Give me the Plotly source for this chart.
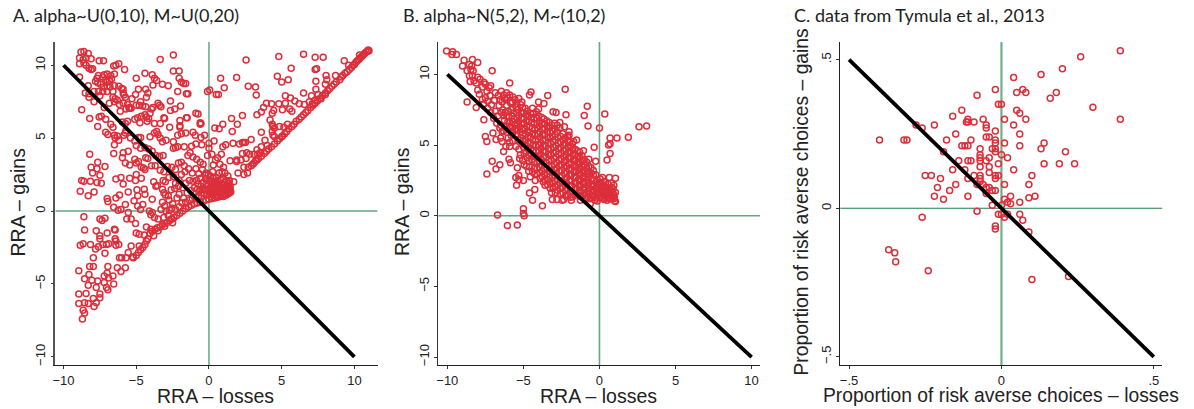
import plotly.graph_objects as go

W, H = 1194, 409

panel_a_points = [
(-8.7,-7.4),(-8.55,-7.0),(-8.65,-6.8),(-8.95,-6.35),(-8.55,-6.3),(-8.3,-6.35),(-7.9,-6.55),(-7.75,-6.3),(-7.95,-6.0),(-7.5,-5.95),(-7.5,-5.7),(-8.95,-5.7),(-8.45,-5.65),(-7.75,-5.25),(-8.3,-5.1),(-8.55,-4.65),(-8.25,-4.35),(-8.05,-4.75),(-7.65,-4.8),(-8.95,-4.1),(-8.2,-3.8),(-7.95,-3.8),(-7.95,-3.2),(-8.85,-2.35),(-8.65,-2.25),(-8.15,-2.3),(-8.55,-1.3),(-8.6,-.4),(-7.75,-1.35),(-7.5,-1.7),(-7.5,-1.9),(-7.3,-2.3),(-7.8,-2.6),(-7.6,-2.45),(-7.5,-.55),(-7.35,-.65),(-7.15,-.5),(-7,-1.5),(-6.5,-1.25),(-6.45,-1.3),(-7.05,-2.3),(-6.9,-2.25),(-7.15,-2.9),(-6.45,-1.9),(-6.4,-2.05),(-6.4,-2.35),(-6.2,-2.3),(-6.95,-3.8),(-7,-4.25),(-7.2,-4.45),(-6.9,-4.6),(-6.6,-4.45),(-7.2,-4.9),(-6.55,-5),(-7.05,-5.25),(-6.95,-5.4),(-6.3,-3.9),(-6.15,-3.2),(-6,-3.2),(-5.7,-3.2),(-6.05,-4.15),(-5.75,-3.9),(-5.55,-2.85),(-5.25,-3.15),(-5.35,-2.4),(-4.8,-2.4),(-5,-1.5),(-4.8,-1.6),(-5.05,-.85),(-4.3,-1.1),(-4,-1.25),(-3.8,-1.7),(-3.5,-1.35),(-5.65,-.55),(-5.35,-.55),(-5.55,-.1),(-6.05,.1),(-6.25,.05),(-6.55,.25),(-5.75,.45),
(-5.2,-3.2),(-5,-3.05),(-4.85,-2.85),(-4.7,-2.65),(-4.55,-2.5),(-4.4,-2.3),(-4.3,-2.05),(-4.45,-1.65),(-4.2,-1.9),(-4.05,-1.55),(-3.9,-1.4),(-3.7,-1.25),(-3.55,-1.15),(-3.35,-1.1),(-3.2,-.95),(-3.05,-.85),(-2.9,-.8),(-2.7,-.65),(-2.55,-.55),(-2.4,-.45),(-2.2,-.3),(-2,-.15),(-1.8,0),(-1.6,.15),(-1.4,.3),(-1.2,.4),(-1,.5),(-.8,.55),(-.6,.6),(-.4,.65),(-.2,.75),(0,.8),(.2,.85),(.4,.9),(.6,.95),(.8,1),(1,1),(1.2,1.1),(1.4,1.25),
(-8.85,1.35),(-7.9,1.3),(-8.3,1.05),(-8.75,2.1),(-8.6,2.05),(-8.15,2.05),(-7.7,1.95),(-7.4,1.9),(-7.5,2.45),(-8,2.6),(-8.1,3),(-7.7,2.9),(-7.65,3.35),(-7.15,3.05),(-8.2,3.9),(-7,.85),(-6.95,.65),(-6.4,.9),(-6.15,1.1),(-6.4,2.2),(-6.05,2.3),(-5.9,1.85),(-5.45,2.25),(-5.55,1.3),(-6.55,3.95),(-5.9,4),(-5.55,4.1),(-5.95,3.65),(-5.75,3.3),(-5.45,3.15),(-5.1,3.55),(-5,3.3),(-4.85,3.4),(-5,2.5),(-5.05,2.1),(-4.65,2.25),(-4.95,1.45),(-4.45,1.5),(-4.9,1.05),(-4.4,1.15),(-5.15,.7),(-4.55,.45),(-4.9,.35),(-4.7,.1),(-4.1,0),(-4,-.25),(-3.75,-.45),(-3.9,-.1),(-3.5,-.55),(-3.1,-.45),(-2.6,-.55),(-2.5,-.8),(-3.05,-1.05),(-2.8,-.3),
(-8.8,10.9),(-8.6,10.95),(-8.3,10.8),(-8.1,10.45),(-8.9,10.5),(-8.65,10.4),(-8.45,10.5),(-8.9,10.1),(-8.6,10.15),(-8.45,10),(-8.25,9.8),(-8,9.75),(-8.1,9.7),(-7.55,10.3),(-7.25,10.3),(-6.55,9.95),(-6.4,10),(-6.2,10.1),(-5.8,9.7),(-8.9,9.2),(-3.35,10.4),(-2.45,10.7),(-2.45,9.6),(-2.05,9.6),(-4.4,9.45),(-3.9,9.35),(-3.75,9.1),(-3.6,8.95),(-3.2,8.7),(-5,9.1),(-2.05,9.1),(-1.9,8.85),(-1.75,8.75),(-1.6,8.75),(-3.85,8.65),(-2.8,8.6),(-2.15,8.2),(-1.55,8.05),(-1.45,8.05),
(-.1,8.2),(.05,8.3),(.5,8),(.65,8),(1.05,8.45),(.8,9.1),(1.9,9.15),(2.7,8.55),(3.2,8.5),(3.25,7.95),(2.55,10.35),(4.8,10.6),(6.5,10.75),(7.3,10.55),(7.85,10.55),(5.65,9.8),(4.7,9.25),(5,8.85),(5.45,9),(7.3,9.7),(7.4,9.75),(7.35,8.9),(8.05,9.3),(8.1,9),(8,8.7),(8.7,9.3),(9.3,10.3),(9.6,10),
(-7.7,9.1),(-7.6,9.3),(-7.3,9.2),(-7.2,9.35),(-7.0,9.4),(-6.75,9.3),(-6.5,9.4),(-7.1,9),(-7.0,8.85),(-6.85,8.95),(-6.7,9.05),(-7.8,8.9),(-7.65,8.8),(-7.45,8.7),(-7.25,8.5),(-7.0,8.55),(-6.8,8.5),(-6.5,8.6),(-6.2,8.55),(-6.0,8.4),(-5.9,8.35),(-8.3,8.6),(-8.5,8.1),(-8.25,8.05),(-8.25,7.8),(-7.9,8.2),(-7.6,8.2),(-7.3,8.2),(-7,8.2),(-6.6,8.2),(-5.9,8.1),(-5.85,7.95),(-5.75,7.8),(-7.9,7.5),(-7.5,7.9),(-7.2,7.1),(-6.85,7.4),(-6.6,7.8),(-6.45,7.7),(-6.3,7.6),(-6.5,7.5),(-6.15,7.3),(-5.9,7.4),(-5.6,7.3),(-5.45,7.1),(-5.3,7.7),(-5.05,8),(-4.85,8.35),(-4.35,8.35),(-4.2,8.1),(-4.3,7.8),(-4.7,7.5),(-5,7.25),(-4.8,7.25),(-4.55,7.2),(-4.35,7.15),(-5.35,7.05),(-5.5,7.05),(-5.7,7),(-6.1,6.85),(-8.75,6.95),(-8.2,6.35),(-7.55,6.45),(-7.4,6.5),(-7.1,6.3),(-6.75,5.95),(-6.6,5.75),(-7.65,5.8),(-7.1,5.4),(-6.95,5.25),(-6.5,5.2),(-6.45,5),(-6.5,4.55),(-6.3,5.15),(-6.2,4.85),(-5.95,6.1),(-5.75,6),(-5.6,6.15),(-5.7,5.5),(-5.75,5.35),(-5.85,5.2),(-5.4,5),(-5.1,4.8),(-5,4.5),(-5.1,6.3),(-4.9,6.4),(-4.65,6.5),(-4.4,6.6),(-4.3,6.45),(-4.15,6.35),(-4.05,6.7),(-3.95,7.0),(-3.85,7.1),(-3.5,7.4),(-3.4,7.25),(-3.3,7.15),(-2.65,7.55),(-2.35,7),(-2.65,6.9),(-1.95,7.2),(-3.1,6.4),(-3.05,6.35),(-3.75,6.0),(-3.35,6.0),(-4.75,6.05),(-4.25,6.15),(-2.7,5.75),(-2,6.2),(-2,5.85),(-2,5.75),(-1.55,6.4),(-1.5,6.4),(-.9,6.7),(-.75,6.65),(-.6,6.05),(-.55,6),(-.6,5.95),(-1.9,5.3),(-1.6,5.35),(-1.1,5.4),(-.95,5.2),(-.55,5.05),(-.3,5.2),(-4.85,5.05),(-4.7,5.05),(-4.05,5.1),(-3.75,5.35),(-3.6,5.45),(-3.5,5.25),(-3.35,5),(-3.2,4.75),(-2.95,4.85),(-2.15,5.2),(-2.45,4.75),
(.4,5.7),(.7,5.65),(.95,5.95),(1.55,6.35),(2.3,6.55),(1.95,5.95),(1.6,5.45),(3.3,6.6),(3.6,6.8),(3.75,7.1),(3.95,7.4),(4.3,7.35),(4.45,6.9),(4.35,6.7),(4.8,7.35),(4.2,6.25),(4.35,5.95),(4.5,5.7),(5.25,7.9),(5.25,7.4),(5.6,7.75),(5.9,7.55),(5.55,7),(5.05,6.95),(5.7,6.85),(6.5,8.1),(6.55,7.3),(7.05,7.9),(7.35,8.35),(7.5,8),(7.7,7.7),(8,8),(3.6,5.4),(3.85,4.85),(4.35,5.45),(4.4,5.2),(4.5,5.1),(2.9,4.9),(2.1,4.6),(2.3,4.7),(2.5,4.7),(1.65,4.65),(1.15,4.55),(.95,4.4),(.35,4.8),(0,4.65),(0,4.3),
(1.5,1.3),(1.7,2.0),(2,2.6),(2.4,2.5),(2.65,2.6),(2.4,3.0),(2.7,3),(2.9,3.1),(3.0,3.2),(3.1,3.3),(3.2,3.45),(3.3,3.5),(3.4,3.6),(3.6,3.75),(3.8,3.95),(3.95,4.1),(4.1,4.25),(4.3,4.4),(4.5,4.6),(4.7,4.8),(4.85,4.95),(5,5.1),(5.2,5.3),(5.35,5.45),(5.5,5.65),(5.7,5.8),(5.85,5.95),(6,6.15),(6.2,6.3),(6.35,6.45),(6.5,6.6),(6.65,6.75),(6.8,6.9),(7,7.1),(7.15,7.25),(7.3,7.4),(7.45,7.55),(7.6,7.7),(7.8,7.9),(8,8.1),(8.15,8.25),(8.3,8.4),(8.45,8.55),(8.6,8.7),(8.75,8.85),(9.0,9),(9.1,9.2),(9.2,9.3),(9.35,9.45),(9.5,9.55),(9.65,9.7),(9.8,9.85),(9.9,10),(10,10.05),(10.1,10.2),(10.2,10.3),(10.3,10.4),(10.4,10.5),(10.5,10.6),(10.35,10.7),(10.6,10.7),(10.7,10.8),(10.8,10.9),(10.9,10.95),(11,11),(10.95,11.05),
(2.4,4.7),(2.8,3.9),(2.6,4),(2.3,3.95),(2.55,3.6),(2.2,3.5),(1.9,3.4),(1.45,3.45),(1.9,3.5),(3.3,4.2),(3.6,4.4),(3.1,3.9),(3.35,3.9),(3.5,4),(4,4.5),(6.2,7.35),(6.9,7.5),(7.1,7.35),(7.3,7.6),(5.4,5.95),(4.4,5.8),(4.85,5.8),(5.15,5.75),(5.05,5.15),
(-4.7,4.3),(-4.4,4.35),(-4.15,4.25),(-3.9,4.1),(-3.65,3.8),(-3.4,3.75),(-3.15,3.8),(-4.35,3.65),(-4.2,3.6),(-4.65,3),(-4.5,2.95),(-4.4,2.85),(-3.95,3.1),(-3.7,3.1),(-3.35,2.8),(-3.1,2.7),(-2.85,3.05),(-2.55,3),(-2.3,2.85),(-2.1,3.3),(-1.9,3.35),(-1.7,3.1),(-1.45,3.8),(-1.3,4),(-1.1,3.7),(-.85,3.55),(-.6,3.35),(-.4,3.2),(-.1,3.8),(-.5,4.55),(-.9,4.6),(-1.2,4.45),(-1.7,4.4),(-2.15,4.4),(-2.45,4.3),(-2.3,4.35),(-3.8,2),(-3.65,1.7),(-3.55,1.75),(-3.15,2.1),(-3.0,2.0),(-2.75,2.3),(-2.45,2.35),(-2.3,1.9),(-2.05,2.1),(-1.9,2.5),(-1.65,2.7),(-1.4,2.9),(-1.15,2.6),(-.9,2.9),(-.7,2.55),(-.45,2.85),(-.2,2.6),(-3.2,1.5),(-3.1,1.25),(-3.0,1.1),(-2.8,1.05),(-2.6,1.45),(-2.35,1.55),(-2.1,1.7),(-1.8,1.6),(-1.6,1.9),(-1.35,2.1),(-1.1,2.05),(-.85,2.1),(-.6,2.25),(-3.9,.8),(-3.2,.6),(-3.05,.35),(-2.75,.75),(-2.5,.5),(-2.2,.9),(-2.05,1.15),(-1.75,.9),(-1.5,1.25),(-1.25,1.4),(-1,1.6),(-.8,1.5),(-2.55,.2),(-2.3,.1),(-2.05,.3),(-1.85,.55),(-1.6,.6),(-1.35,.75),(-1.15,.85),(-.9,.95),(-.7,1.05),(-.5,1.25),(-2.95,.0),(-2.7,.05),(-3.3,.1),(-.55,1.7),(-.4,1.95),(-.2,2.2),(-.3,1.45),(-.15,1.1),(.05,1.3),
(.05,2.1),(.1,2.4),(.25,2.7),(.3,3.15),(.2,3.9),(.45,3.5),(.6,3.65),(.85,3.9),(.75,3.2),(1,3),(.9,2.7),(1.1,2.6),(1.3,2.4),(.7,2.6),(.5,2.3),(.35,1.9),(.3,1.55),(.15,1.0),(.5,1.1),(.55,1.5),(.65,1.85),(.8,2.15),(1,2.2),(1.2,2.1),(1.35,1.9),(1.4,1.6),(1.2,1.5),(1,1.75),(.8,1.55),(.7,1.25),(.9,1.25),(1.1,1.3),(1.3,1.35),(1.45,1.4),(1.25,1.75),(1.05,1.95),(.85,1.85),(.45,1.75),(.2,1.3),(-.1,1.7),(-.05,2.5),(-.05,1.45),(.1,1.65),(.4,2.05),(.6,2.1),
(.02,1.15),(.12,1.5),(.25,1.15),(.35,1.3),(.42,1.05),(.58,1.25),(.62,1.05),(.78,1.12),(.95,1.08),(1.15,1.15),(1.35,1.2),(1.32,1.5),(1.15,1.65),(.92,1.62),(.72,1.72),(.52,1.9),(.3,2.25),(.18,1.85),(-.15,1.9),(-.25,2.45),(-.35,1.2),(-.48,1.5),(-.62,1.4),(-.75,1.85),(1.45,1.75),(1.45,1.55),(1.4,2.1),
]

panel_b_points = [
(-10.05,11.65),(-9.65,11.6),(-9.7,11.4),(-9.4,11.4),(-8.9,11),(-9,10.6),(-8.35,11.05),(-8,10.85),(-8.55,10.7),(-8.4,10.6),(-8.45,10.35),(-8.7,10.25),(-8.3,10.25),(-8.55,9.9),(-8.35,9.9),(-8.5,9.5),(-8.25,9.55),(-8,9.8),(-7.85,9.65),(-7.6,9.45),(-8,8.9),(-7.05,10.25),(-5.9,9.4),(-8.7,8.05),(-8.1,7.65),(-7.6,6.8),(-7.7,8.25),(-7.5,8.35),(-7.25,9.05),(-7.15,9.2),
(-2.25,8.95),(-3.4,8.5),(-4.5,8.75),(-4.6,8.55),(-.8,7.75),(-1,7.1),(.35,7.2),(-.75,6.35),(0,6.2),(2.6,6.3),(3.1,6.35),(1.9,5.55),(1.15,5.5),(.7,5.5),(.7,5.1),(.6,5),(.7,4.4),(.5,3.95),(-.35,4.85),(-.25,3.85),(-1.05,4.6),(-1.5,5.35),(-3.05,7.35),(-2.85,7.3),(-2.2,7.15),(-4,8.05),(-3.65,7.95),(-4,7.55),(-2,5.95),
(-7.5,5.6),(-7.4,5.25),(-7,5.85),(-6.8,5.4),(-6.5,5.5),(-6.4,5.25),(-6.3,4.55),(-6.15,4.9),(-7.05,3.85),(-6.55,3.6),(-6.8,3.3),(-7.4,2.95),(-5.95,4),(-5.85,3.75),(-5.5,2.7),(-5.3,2.85),(-5.3,2.55),(-5.45,2.15),(-5,2.5),(-5.4,3.4),(-4.6,1.6),(-4.25,1.85),(-4.4,1.1),(-3.75,.7),(-3.1,1.15),(-6.7,.05),(-6.05,-.7),(-5.4,-.65),(-5,.5),(-5,.15),(-4.95,0),
(-3.15,1.65),(-2.8,1.15),(-2.45,1.1),(-2.35,1.15),(-1.85,1.1),(-1.25,1.1),(-.6,.85),(-.15,1.05),(.5,1.1),(1,1.05),(1.05,1),(.95,1.2),(1.05,1.65),(.95,2.15),(1.05,2.65),(.65,2.7),(.2,2.7),
(-7.4,8.8),(-7.2,8.5),(-7.35,8.1),(-7.1,7.85),(-6.9,8.15),(-6.85,8.7),(-6.65,8.5),(-6.45,8.8),(-6.3,8.55),(-6.1,8.7),(-5.9,8.55),(-5.7,8.4),(-5.55,8.2),(-5.3,8.3),(-5.1,8.05),(-6.85,7.4),(-6.7,7.05),(-6.6,7.8),(-6.5,6.4),(-6.4,8.05),(-6.35,7.5),(-6.3,7.1),(-6.25,6.75),(-6.15,8.2),(-6.1,7.8),(-6,7.4),(-5.95,7),(-5.9,6.6),(-5.85,6.25),(-5.85,8),(-5.7,7.65),(-5.65,7.25),(-5.6,6.85),(-5.55,6.45),(-5.5,6.1),(-5.5,5.7),(-5.45,7.95),(-5.35,7.5),(-5.3,7.1),(-5.3,6.7),(-5.25,6.3),(-5.2,5.95),(-5.15,5.5),(-5.1,5.1),(-5.05,7.65),(-5,7.25),(-4.95,6.9),(-4.95,6.5),(-4.9,6.15),(-4.85,5.75),(-4.85,5.35),(-4.8,4.95),(-4.8,4.55),(-4.75,7.4),(-4.7,7.05),(-4.65,6.7),(-4.6,6.3),(-4.6,5.9),(-4.55,5.55),(-4.55,5.15),(-4.5,4.75),(-4.5,4.35),(-4.45,3.95),(-4.4,7.6),(-4.35,7.2),(-4.3,6.85),(-4.3,6.5),(-4.25,6.1),(-4.25,5.7),(-4.2,5.35),(-4.2,4.95),(-4.15,4.55),(-4.15,4.15),(-4.1,3.75),(-4.1,3.35),(-4.1,2.95),(-4,7.05),(-3.95,6.7),(-3.95,6.35),(-3.9,5.95),(-3.9,5.55),(-3.85,5.15),(-3.85,4.75),(-3.85,4.35),(-3.8,3.95),(-3.8,3.55),(-3.75,3.15),(-3.75,2.75),(-3.7,2.4),(-3.65,6.85),(-3.6,6.5),(-3.6,6.15),(-3.6,5.75),(-3.55,5.35),(-3.55,4.95),(-3.55,4.55),(-3.5,4.15),(-3.5,3.75),(-3.45,3.35),(-3.45,2.95),(-3.4,2.55),(-3.4,2.2),(-3.3,6.6),(-3.3,6.25),(-3.25,5.9),(-3.25,5.5),(-3.2,5.1),(-3.2,4.7),(-3.2,4.3),(-3.15,3.9),(-3.15,3.5),(-3.1,3.1),(-3.1,2.7),(-3.1,2.3),(-3.05,1.95),
(-2.95,6.55),(-2.95,6.15),(-2.9,5.75),(-2.9,5.35),(-2.85,4.95),(-2.85,4.55),(-2.85,4.15),(-2.8,3.75),(-2.8,3.35),(-2.8,2.95),(-2.75,2.55),(-2.75,2.15),(-2.75,1.8),(-2.6,6.6),(-2.6,6.2),(-2.55,5.6),(-2.55,5.2),(-2.55,4.8),(-2.5,4.4),(-2.5,4),(-2.5,3.6),(-2.5,3.2),(-2.45,2.8),(-2.45,2.4),(-2.45,2),(-2.4,1.6),(-2.3,6.3),(-2.25,5.5),(-2.25,5.1),(-2.2,4.7),(-2.2,4.3),(-2.2,3.9),(-2.15,3.5),(-2.15,3.1),(-2.15,2.7),(-2.15,2.3),(-2.1,1.9),(-2.1,1.5),(-2,5.7),(-1.95,5.2),(-1.9,4.9),(-1.9,4.5),(-1.9,4.1),(-1.85,3.7),(-1.85,3.3),(-1.85,2.9),(-1.85,2.5),(-1.8,2.1),(-1.8,1.7),(-1.75,1.35),(-1.7,5.25),(-1.6,4.7),(-1.6,4.3),(-1.6,3.9),(-1.55,3.5),(-1.55,3.1),(-1.55,2.7),(-1.55,2.3),(-1.5,1.9),(-1.5,1.5),(-1.3,4.5),(-1.3,4.1),(-1.3,3.7),(-1.25,3.3),(-1.25,2.9),(-1.25,2.5),(-1.25,2.1),(-1.2,1.7),(-1.2,1.35),(-1,4),(-1,3.6),(-1,3.2),(-1,2.8),(-.95,2.4),(-.95,2),(-.95,1.6),(-.9,1.25),(-.7,4),(-.7,3.5),(-.7,3.15),(-.7,2.75),(-.7,2.35),(-.65,1.95),(-.65,1.55),(-.6,1.2),(-.4,3.2),(-.4,2.9),(-.4,2.5),(-.4,2.1),(-.35,1.75),(-.35,1.35),(-.3,1.1),(-.15,2.55),(-.1,2.2),(-.1,1.85),(-.1,1.5),(.05,2.6),(.1,2.3),(.15,1.95),(.15,1.6),(.2,1.25),(.3,2.4),(.35,2.05),(.4,1.7),(.45,1.35),(.55,2.25),(.6,1.9),(.65,1.55),(.7,1.2),(.8,2),(.85,1.7),(.85,1.3),(.95,1.5),(-8.1,9.4),(-7.7,9.1),(-7.5,9.3),(-7.9,8.6),(-7.6,7.9),(-7.35,7.6),(-7.15,7.3),(-6.95,6.9),(-6.75,6.55),(-6.55,6.2),(-6.4,5.95),
(-6.55,8.2),(-6.25,8.3),(-6.05,8.35),(-5.72,8.05),(-6.45,7.3),(-6.2,7.3),(-6.08,7.05),(-5.78,7.5),(-5.75,7.05),(-5.72,6.65),(-5.7,6.25),(-5.68,5.9),(-5.48,7.7),(-5.45,7.3),(-5.42,6.9),(-5.4,6.5),(-5.38,6.05),(-5.35,5.35),(-5.18,7.85),(-5.15,7.3),(-5.12,6.9),(-5.1,6.5),(-5.08,6.1),(-5.05,5.75),(-5.02,5.3),(-4.98,4.85),(-4.95,4.4),(-4.88,7.6),(-4.82,7.15),(-4.8,6.7),(-4.78,6.35),(-4.72,5.95),(-4.7,5.55),(-4.7,5.15),(-4.68,4.75),(-4.65,4.3),(-4.62,3.85),(-4.6,3.45),(-4.52,7.25),(-4.48,6.95),(-4.45,6.6),(-4.42,6.2),(-4.4,5.8),(-4.38,5.4),(-4.35,5),(-4.35,4.6),(-4.32,4.2),(-4.3,3.8),(-4.28,3.35),(-4.25,2.95),(-4.22,2.5),(-4.15,7.35),(-4.12,6.9),(-4.1,6.55),(-4.08,6.2),(-4.05,5.8),(-4.03,5.4),(-4.02,5),(-4,4.6),(-3.98,4.2),(-3.96,3.85),(-3.94,3.45),(-3.92,3.05),(-3.9,2.65),(-3.8,6.95),(-3.78,6.55),(-3.76,6.15),(-3.74,5.75),(-3.72,5.35),(-3.7,4.95),(-3.7,4.55),(-3.68,4.15),(-3.66,3.75),(-3.64,3.35),(-3.62,2.95),(-3.6,2.55),(-3.58,2.15),(-3.46,6.7),(-3.44,6.35),(-3.42,5.95),(-3.4,5.55),(-3.38,5.15),(-3.36,4.75),(-3.35,4.35),(-3.33,3.95),(-3.32,3.55),(-3.3,3.15),(-3.28,2.75),(-3.26,2.35),(-3.24,1.95),(-3.12,6.4),(-3.1,6),(-3.08,5.6),(-3.06,5.25),(-3.04,4.85),(-3.02,4.45),(-3,4.05),(-2.98,3.65),(-2.97,3.25),(-2.95,2.85),(-2.94,2.45),(-2.92,2.05),(-2.9,1.65),(-2.78,6.4),(-2.76,5.95),(-2.74,5.55),(-2.72,5.15),(-2.7,4.75),(-2.68,4.35),(-2.66,3.95),(-2.65,3.55),(-2.63,3.15),(-2.62,2.75),(-2.6,2.35),(-2.58,1.95),(-2.56,1.55),(-2.42,5.8),(-2.4,5.4),(-2.38,5),(-2.36,4.6),(-2.35,4.2),(-2.33,3.8),(-2.32,3.4),(-2.3,3),(-2.28,2.6),(-2.27,2.2),(-2.25,1.8),(-2.23,1.4),(-2.1,5.6),(-2.08,5.3),(-2.06,4.9),(-2.05,4.5),(-2.03,4.1),(-2.02,3.7),(-2,3.3),(-1.98,2.9),(-1.97,2.5),(-1.95,2.1),(-1.93,1.7),(-1.9,1.3),(-1.78,5.1),(-1.76,4.7),(-1.74,4.3),(-1.72,3.9),(-1.7,3.5),(-1.68,3.1),(-1.66,2.7),(-1.65,2.3),(-1.63,1.9),(-1.62,1.5),(-1.45,4.6),(-1.43,4.2),(-1.42,3.8),(-1.4,3.4),(-1.38,3),(-1.37,2.6),(-1.35,2.2),(-1.33,1.8),(-1.32,1.4),(-1.15,4.25),(-1.13,3.85),(-1.12,3.45),(-1.1,3.05),(-1.08,2.65),(-1.07,2.25),(-1.05,1.85),(-1.04,1.45),(-.85,3.8),(-.84,3.35),(-.82,2.95),(-.8,2.55),(-.79,2.15),(-.77,1.75),(-.76,1.35),(-.55,3.4),(-.54,3),(-.52,2.6),(-.5,2.2),(-.5,1.8),(-.48,1.4),(-.25,2.9),(-.24,2.35),(-.22,1.95),(-.2,1.6),(-.2,1.25),(0,2.35),(.02,2),(.02,1.65),(.04,1.3),(.25,2.15),(.26,1.8),(.28,1.45),(.3,1.15),(.48,2),(.5,1.65),(.52,1.25),(.72,1.75),(.74,1.45),(.9,1.9),(.98,1.3),(.78,2.3),
(-6.2,6.3),(-6.1,5.9),(-6,5.5),(-5.9,5.2),(-5.8,5.7),(-6.3,6.0),(-5.7,5.3),(-5.9,4.9),(-5.5,4.9),(-5.3,4.7),(-5.2,4.3),(-5.05,3.9),(-4.95,3.6),(-4.8,3.5),(-4.65,3.15),(-6.02,6.65),(-5.92,6.35),(-5.25,4.05),(-4.75,4.1),(-4.55,2.75),(-4.4,3.1),
]

panel_c_x = [.39,.26,.2,.13,.04,-.02,.07,.05,.08,.18,.16,-.08,.3,-.01,0,.05,.06,-.13,-.16,-.11,.01,.08,.39,-.06,-.115,-.11,-.09,.04,-.05,-.05,-.22,-.28,-.26,-.02,.06,-.15,-.05,-.04,-.1,-.18,-.4,-.32,-.31,-.02,-.02,.01,.14,-.13,-.12,-.11,.06,.13,-.07,-.03,-.02,-.02,-.19,.21,0,-.07,-.07,-.04,.02,-.14,-.11,-.1,-.07,-.05,-.01,.14,.19,.24,-.07,-.04,-.16,-.12,.04,-.04,-.25,-.23,-.09,-.07,-.02,-.01,.1,-.2,-.11,-.07,-.02,-.07,-.06,-.15,-.08,.01,.09,-.21,-.05,-.04,-.17,-.03,-.02,-.05,-.22,-.11,.03,.11,-.19,.01,.09,.06,.02,-.03,.03,0,-.08,-.01,0,.02,.06,-.26,.01,.07,-.02,-.02,.09,-.37,-.35,-.347,-.24,.1,.22]
panel_c_y = [.53,.51,.47,.45,.44,.4,.4,.39,.39,.39,.37,.38,.34,.35,.35,.33,.32,.33,.31,.3,.3,.3,.3,.3,.29,.29,.29,.28,.28,.27,.28,.28,.27,.26,.25,.25,.24,.24,.23,.23,.23,.23,.23,.23,.22,.22,.22,.21,.21,.21,.21,.2,.2,.2,.2,.19,.19,.19,.18,.18,.17,.17,.17,.16,.16,.16,.16,.16,.15,.15,.15,.15,.14,.14,.13,.13,.13,.12,.11,.11,.11,.11,.11,.11,.11,.1,.1,.1,.1,.09,.08,.08,.08,.08,.08,.07,.07,.07,.06,.06,.06,.05,.04,.04,.04,.04,.03,.03,.035,.02,.02,.01,.015,.01,-.01,-.02,-.02,-.02,-.02,-.03,-.03,-.04,-.06,-.07,-.08,-.14,-.15,-.18,-.21,-.24,-.23]

a_x = [p[0] for p in panel_a_points]
a_y = [p[1] for p in panel_a_points]
b_x = [p[0] for p in panel_b_points]
b_y = [p[1] for p in panel_b_points]

rra_ticks = [-10, -5, 0, 5, 10]
rra_labels = ["−10", "−5", "0", "5", "10"]
prop_ticks = [-.5, 0, .5]
prop_labels = ["−.5", "0", ".5"]
line_a = [-10, 10]
line_b = [10, -10]
line_c_a = [-.5, .5]
line_c_b = [.5, -.5]

titles = ["A. alpha~U(0,10), M~U(0,20)", "B. alpha~N(5,2), M~(10,2)", "C. data from Tymula et al., 2013"]
title_left = [8, 399, 791]

panels = [
    dict(px=(52.5, 375.5), xr=(-10.56, 11.59), yr=(-10.57, 11.6), data=(a_x, a_y), ref=(line_a, line_b),
         xt=rra_ticks, xl=rra_labels, xtitle="RRA – losses", ytitle="RRA – gains",
         vs=("#3a9660", 1.2), hs=("#5fa97f", 1.6), axis="#555555", ylw=1.6, ty_x=15, tx_c=213, tsize=19.5),
    dict(px=(436.3, 759), xr=(-10.6, 10.56), yr=(-10.57, 12.3), data=(b_x, b_y), ref=(line_a, line_b),
         xt=rra_ticks, xl=rra_labels, xtitle="RRA – losses", ytitle="RRA – gains",
         vs=("#62a880", 1.6), hs=("#62a880", 1.6), axis="#333333", ylw=1.0, ty_x=399.5, tx_c=597.5, tsize=19.5),
    dict(px=(839.3, 1162.3), xr=(-.529, .528), yr=(-.528, .56), data=(panel_c_x, panel_c_y), ref=(line_c_a, line_c_b),
         xt=prop_ticks, xl=prop_labels, xtitle="Proportion of risk averse choices – losses",
         ytitle="Proportion of risk averse choices – gains",
         vs=("#6fb08c", 2.2), hs=("#1f7a4c", 1.2), axis="#222222", ylw=1.0, ty_x=801, tx_c=1001, tsize=19.3),
]

TOP, BOTTOM = 42, 366
fx = lambda px: px / W
fy = lambda py: 1 - py / H

fig = go.Figure()
layout = dict(width=W, height=H, autosize=False, margin=dict(l=0, r=0, t=0, b=0),
              paper_bgcolor="white", plot_bgcolor="white", showlegend=False,
              font=dict(family="Liberation Sans", color="#222222"))
annotations = []
for i, p in enumerate(panels, start=1):
    sfx = "" if i == 1 else str(i)
    xa, ya = "x" + sfx, "y" + sfx
    common = dict(showgrid=False, zeroline=False, showline=True, mirror=False, ticks="outside",
                  ticklen=3, tickwidth=1, tickcolor="#333333", tickfont=dict(size=13, color="#222222"))
    layout["xaxis" + sfx] = dict(domain=[fx(p["px"][0]), fx(p["px"][1])], range=list(p["xr"]), anchor=ya,
                                 tickvals=p["xt"], ticktext=p["xl"], linecolor="#222222", linewidth=1, **common)
    layout["yaxis" + sfx] = dict(domain=[fy(BOTTOM), fy(TOP)], range=list(p["yr"]), anchor=xa,
                                 tickvals=p["xt"], ticktext=p["xl"], tickangle=-90,
                                 linecolor=p["axis"], linewidth=p["ylw"], **common)
    x0, x1 = p["xr"]; y0, y1 = p["yr"]
    fig.add_trace(go.Scatter(x=[0, 0], y=[y0, y1], mode="lines", line=dict(color=p["vs"][0], width=p["vs"][1]),
                             xaxis=xa, yaxis=ya, hoverinfo="skip"))
    fig.add_trace(go.Scatter(x=[x0, x1], y=[0, 0], mode="lines", line=dict(color=p["hs"][0], width=p["hs"][1]),
                             xaxis=xa, yaxis=ya, hoverinfo="skip"))
    fig.add_trace(go.Scatter(x=p["data"][0], y=p["data"][1], mode="markers",
                             marker=dict(symbol="circle-open", size=6, color="#dc2f3b", line=dict(width=1.5, color="#dc2f3b")),
                             xaxis=xa, yaxis=ya))
    fig.add_trace(go.Scatter(x=p["ref"][0], y=p["ref"][1], mode="lines", line=dict(color="black", width=3.8),
                             xaxis=xa, yaxis=ya, hoverinfo="skip"))
    annotations.append(dict(text=titles[i - 1], xref="paper", yref="paper", x=fx(title_left[i - 1]), y=fy(15),
                            xanchor="left", yanchor="middle", showarrow=False,
                            font=dict(family="Lato", size=18, color="#222222")))
    annotations.append(dict(text=p["xtitle"], xref="paper", yref="paper", x=fx(p["tx_c"]), y=fy(396.5),
                            xanchor="center", yanchor="middle", showarrow=False,
                            font=dict(size=p["tsize"], color="#222222")))
    annotations.append(dict(text=p["ytitle"], xref="paper", yref="paper", x=fx(p["ty_x"]), y=fy(202),
                            xanchor="center", yanchor="middle", textangle=-90, showarrow=False,
                            font=dict(size=p["tsize"], color="#222222")))
layout["annotations"] = annotations
fig.update_layout(**layout)
fig.write_html("out.html", config={"displayModeBar": False}, post_script="document.body.style.margin='0';")
